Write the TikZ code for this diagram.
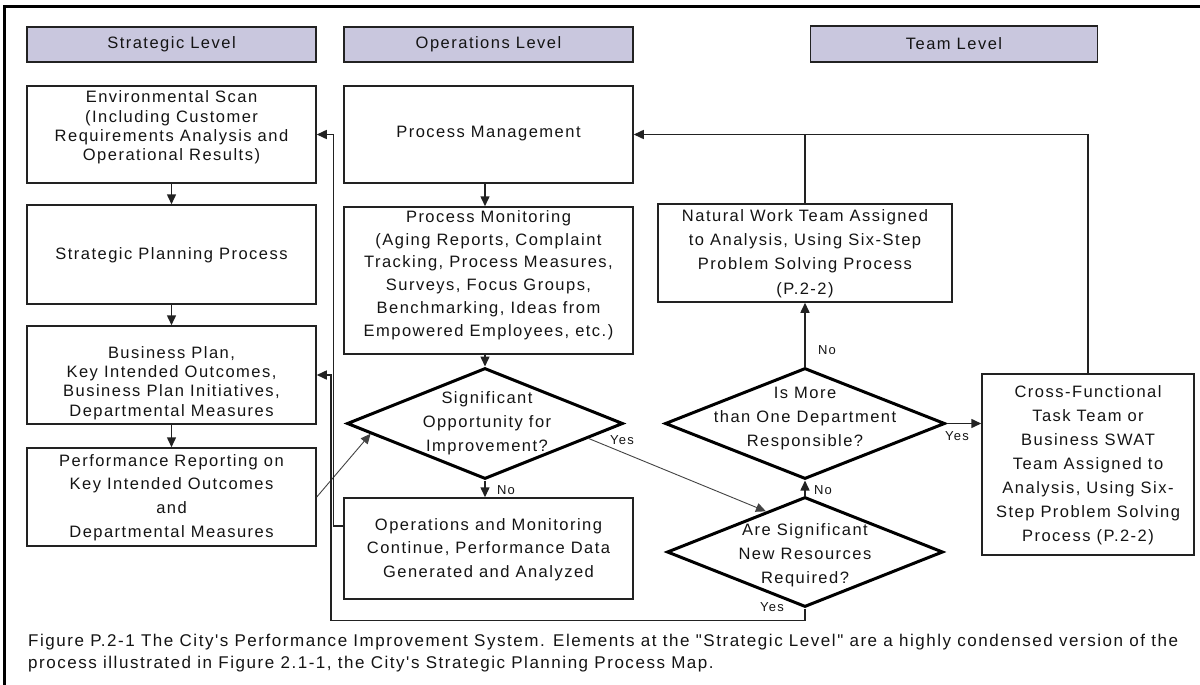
\documentclass[tikz,border=0pt]{standalone}
\usepackage{fontspec}
\setmainfont{Liberation Sans}
\newfontfamily\boxfont{Liberation Sans}[LetterSpace=9]
\newfontfamily\capfont{Liberation Sans}[LetterSpace=9]
\usetikzlibrary{arrows.meta,shapes.geometric,calc}

\definecolor{hdrfill}{RGB}{201,199,222}
\definecolor{edge}{RGB}{34,34,34}
\definecolor{ink}{RGB}{20,20,20}

\tikzset{
  hdr/.style={draw=edge, line width=1.6pt, fill=hdrfill, minimum width=289pt,
    minimum height=35pt, inner sep=0pt, text=ink, font=\boxfont\fontsize{16.5}{19}\selectfont},
  box/.style={draw=edge, line width=1.5pt, minimum width=289pt, inner sep=0pt},
  dia/.style={diamond, draw=black, line width=3pt, inner sep=0pt,
    minimum width=276pt, minimum height=111pt},
  tnarrow/.style={align=center, inner sep=0pt, text=ink, font=\boxfont\fontsize{16.5}{19.4}\selectfont},
  twide/.style={align=center, inner sep=0pt, text=ink, font=\boxfont\fontsize{16.5}{23.6}\selectfont},
  lbl/.style={inner sep=0pt, text=ink, font=\boxfont\fontsize{13}{15}\selectfont},
  link/.style={draw=edge, line width=1.5pt},
  arr/.style={link, -{Triangle[length=10pt,width=9pt]}},
  thinarr/.style={draw=edge!85, line width=0.9pt, -{Triangle[length=10pt,width=9pt]}},
}

\begin{document}
\begin{tikzpicture}[x=1pt,y=-1pt]
\useasboundingbox (0,0) rectangle (1200,685);
\fill[white] (0,0) rectangle (1200,685);

% outer frame (left and top edges)
\draw[line width=3pt, black] (4,685) -- (4,7) -- (1200,7);

% column headers
\node[hdr] (hstrat) at (171.5,44.5) {Strategic Level};
\node[hdr] (hops)   at (488.5,44.5) {Operations Level};
\node[hdr, minimum width=287pt, minimum height=36pt] (hteam) at (954,44) {Team Level};

% strategic column
\node[box, minimum height=97pt] (env)  at (171.5,134.5) {};
\node[tnarrow] (envt) at (171.5,127.5) {Environmental Scan\\(Including Customer\\Requirements Analysis and\\Operational Results)};
\node[box, minimum height=99pt] (sp)   at (171.5,254.5) {};
\node[tnarrow] (spt) at (171.5,255) {Strategic Planning Process};
\node[box, minimum height=98pt] (bp)   at (171.5,375) {};
\node[tnarrow] (bpt) at (171.5,383) {Business Plan,\\Key Intended Outcomes,\\Business Plan Initiatives,\\Departmental Measures};
\node[box, minimum height=98pt] (perf) at (171.5,497) {};
\node[twide] (perft) at (171.5,497.5) {Performance Reporting on\\Key Intended Outcomes\\and\\Departmental Measures};

% operations column
\node[box, minimum height=97pt] (pm)   at (488.5,134.5) {};
\node[tnarrow] (pmt) at (488.5,133.5) {Process Management};
\node[box, minimum height=147pt] (pmon) at (488.5,280.5) {};
\node[twide, font=\boxfont\fontsize{16.5}{22.8}\selectfont] (pmont) at (488.5,275) {Process Monitoring\\(Aging Reports, Complaint\\Tracking, Process Measures,\\Surveys, Focus Groups,\\Benchmarking, Ideas from\\Empowered Employees, etc.)};
\node[dia] (d1) at (485,423.5) {};
\node[twide, font=\boxfont\fontsize{16.5}{24}\selectfont] (d1t) at (487,423) {Significant\\Opportunity for\\Improvement?};
\node[box, minimum height=101pt] (ops)  at (488.5,548.5) {};
\node[twide] (opst) at (488.5,549.5) {Operations and Monitoring\\Continue, Performance Data\\Generated and Analyzed};

% team column
\node[box, minimum width=294pt, minimum height=98pt] (nat) at (805,253) {};
\node[twide, font=\boxfont\fontsize{16.5}{24.2}\selectfont] (natt) at (805,253.5) {Natural Work Team Assigned\\to Analysis, Using Six-Step\\Problem Solving Process\\(P.2-2)};
\node[dia, minimum width=280pt] (d2) at (805,423.5) {};
\node[twide, font=\boxfont\fontsize{16.5}{24}\selectfont] (d2t) at (805,419) {Is More\\than One Department\\Responsible?};
\node[dia, minimum height=110pt] (d3) at (805,552) {};
\node[twide, font=\boxfont\fontsize{16.5}{24}\selectfont] (d3t) at (805,555) {Are Significant\\New Resources\\Required?};
\node[box, minimum width=212pt, minimum height=181pt] (cross) at (1088,464.5) {};
\node[twide, font=\boxfont\fontsize{16.5}{24}\selectfont] (crosst) at (1088,465) {Cross-Functional\\Task Team or\\Business SWAT\\Team Assigned to\\Analysis, Using Six-\\Step Problem Solving\\Process (P.2-2)};

% strategic flow
\draw[arr] (env.south) -- (sp.north);
\draw[arr] (sp.south) -- (bp.north);
\draw[arr] (bp.south) -- (perf.north);
\draw[thinarr] (perf.east) -- ($(d1.west)!0.18!(d1.south)$);

% operations flow
\draw[arr] (pm.south -| d1.north) -- (pmon.north -| d1.north);
\draw[arr] (pmon.south -| d1.north) -- (d1.north);
\draw[arr] (d1.south) -- (ops.north -| d1.south);
\node[lbl] (no1) at (506,490) {No};
\draw[thinarr] ($(d1.east)!0.26!(d1.south)$) -- ($(d3.west)!0.72!(d3.north)$);
\node[lbl] (yes1) at (622,440) {Yes};
\draw[arr] ([yshift=22.5pt]ops.west) -- ++(-10,0) |- (env.east);

% team flow
\draw[arr] (d3.north) -- (d2.south);
\node[lbl] (no3) at (823,490) {No};
\draw[arr] (d2.north) -- (nat.south);
\node[lbl] (no2) at (827,350) {No};
\draw[arr] (d2.east) -- (d2.east -| cross.west);
\node[lbl] (yes2) at (957,436) {Yes};
\draw[arr] (cross.north) |- (pm.east);
\draw[link] (nat.north) -- (nat.north |- pm.east);
\draw[arr] (d3.south) -- ++(0,12) -| ($(bp.east)+(14,0)$) -- (bp.east);
\node[lbl] (yes3) at (772,607) {Yes};

% caption
\node[anchor=west, align=left, inner sep=0pt, text=ink, font=\capfont\fontsize{17}{22}\selectfont] (caption) at (28,653)
  {Figure P.2-1 The City's Performance Improvement System. Elements at the "Strategic Level" are a highly condensed version of the\\
   process illustrated in Figure 2.1-1, the City's Strategic Planning Process Map.};
\end{tikzpicture}
\end{document}
